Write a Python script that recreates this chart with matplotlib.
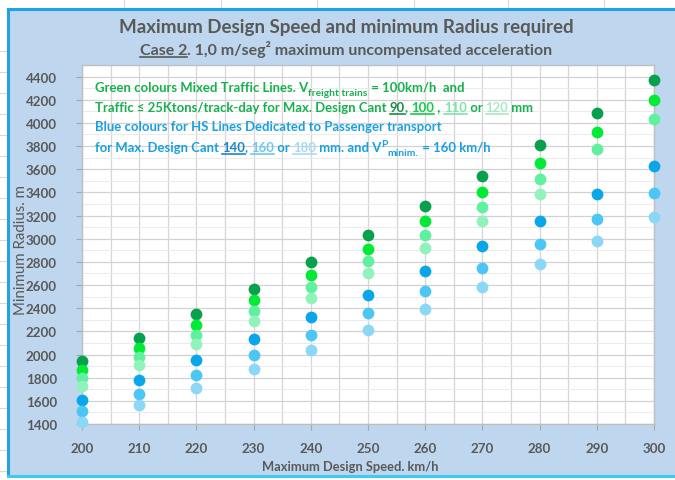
import matplotlib
matplotlib.use("Agg")
import matplotlib.pyplot as plt
from matplotlib.lines import Line2D
from matplotlib.patches import Rectangle
import numpy as np

# ---------------------------------------------------------------- data
speeds = [200, 210, 220, 230, 240, 250, 260, 270, 280, 290, 300]

# minimum radius (m) per maximum design cant (mm)
r_cant_90 = [1942, 2141, 2350, 2569, 2797, 3035, 3283, 3540, 3807, 4084, 4370]
r_cant_100 = [1866, 2057, 2257, 2467, 2686, 2915, 3153, 3400, 3657, 3922, 4198]
r_cant_110 = [1795, 1979, 2172, 2373, 2584, 2804, 3033, 3271, 3518, 3773, 4038]
r_cant_120 = [1729, 1906, 2092, 2287, 2490, 2701, 2922, 3151, 3389, None, None]
r_cant_140 = [1611, 1776, 1949, 2130, 2320, 2517, 2722, 2936, 3157, 3387, 3625]
r_cant_160 = [1508, 1663, 1825, 1994, 2172, 2356, 2549, 2748, 2956, 3171, 3393]
r_cant_180 = [1417, 1563, 1715, 1875, 2041, 2215, 2395, 2583, 2778, 2980, 3189]

series = [
    (r_cant_90, "#07A04C"),
    (r_cant_100, "#00EA36"),
    (r_cant_110, "#5FF0A0"),
    (r_cant_120, "#92F2BC"),
    (r_cant_140, "#0AA6EA"),
    (r_cant_160, "#4CC6F4"),
    (r_cant_180, "#8AD8F6"),
]

x_ticks = [200, 210, 220, 230, 240, 250, 260, 270, 280, 290, 300]
y_ticks = [1400, 1600, 1800, 2000, 2200, 2400, 2600, 2800, 3000,
           3200, 3400, 3600, 3800, 4000, 4200, 4400]

title = "Maximum Design Speed and minimum Radius required"
x_label = "Maximum Design Speed. km/h"
y_label = "Minimum Radius. m"

# ---------------------------------------------------------------- style
W, H = 675, 481
FAM = ["Lato", "DejaVu Sans"]
GREY = "#595959"
GREEN_TXT = "#16B04E"
BLUE_TXT = "#1AA0E0"

fig = plt.figure(figsize=(W / 100, H / 100), dpi=100)
fig.patch.set_facecolor("white")
renderer = fig.canvas.get_renderer()


def fx(px):
    return px / W


def fy(py):
    return 1 - py / H


# faint worksheet cell lines around the chart
for xc in [124, 221, 317, 414, 508, 604]:
    fig.add_artist(Line2D([fx(xc), fx(xc)], [fy(0), fy(9)], color="#D9D9D9", lw=0.8))
for yc in [52, 73, 94, 115, 136, 157, 178, 199, 220, 241, 262, 283, 304, 325,
           346, 367, 388, 409, 430, 451, 472]:
    fig.add_artist(Line2D([fx(0), fx(6)], [fy(yc), fy(yc)], color="#D9D9D9", lw=0.8))

# chart area
fig.add_artist(Rectangle((fx(8), fy(477)), 1 - fx(8), fy(10) - fy(477),
                         transform=fig.transFigure, facecolor="#BED7EE",
                         edgecolor="none", zorder=0))
fig.add_artist(Line2D([fx(8), 1], [fy(10), fy(10)], color="#22A2E2", lw=2.2))
fig.add_artist(Line2D([fx(8), fx(8)], [fy(10), fy(477)], color="#22A2E2", lw=2.2))
fig.add_artist(Line2D([fx(8), 1], [fy(477), fy(477)], color="#3CCBF2", lw=2.2))

# ---------------------------------------------------------------- axes
ax = fig.add_axes([fx(82), fy(425), fx(654) - fx(82), fy(66) - fy(425)])
ax.set_facecolor("white")
ax.set_xlim(200, 300)
ax.set_ylim(1400, 4500)

ax.set_xticks(x_ticks)
ax.set_xticks(np.arange(200, 301, 5), minor=True)
ax.set_yticks(y_ticks)
ax.set_yticks(np.arange(1400, 4501, 100), minor=True)
ax.grid(which="both", axis="x", color="#D6D6D6", lw=0.9)
ax.grid(which="major", axis="y", color="#D2D2D2", lw=0.9)
ax.grid(which="minor", axis="y", color="#EBEBEB", lw=0.7)
ax.set_axisbelow(True)
for s in ax.spines.values():
    s.set_color("#BFBFBF")
    s.set_linewidth(1.0)
ax.tick_params(which="major", length=4, color="#A6A6A6", width=0.8)
ax.tick_params(which="minor", length=0)
ax.tick_params(axis="y", pad=14)
ax.tick_params(axis="x", pad=9)
for lab in ax.get_xticklabels() + ax.get_yticklabels():
    lab.set_family(FAM)
    lab.set_weight("bold")
    lab.set_color(GREY)
    lab.set_fontsize(9.6)

for vals, col in series:
    v = np.array([np.nan if r is None else r for r in vals], dtype=float)
    ax.scatter(speeds, v, s=72, color=col, linewidths=0, zorder=3, clip_on=False)


# ---------------------------------------------------------------- text helpers
def width_px(s, size, weight="bold"):
    a = fig.text(0, 0, "|" + s + "|", fontsize=size, weight=weight, family=FAM)
    b = fig.text(0, 0, "||", fontsize=size, weight=weight, family=FAM)
    w = a.get_window_extent(renderer).width - b.get_window_extent(renderer).width
    a.remove()
    b.remove()
    return w


def fit(s, target, weight="bold"):
    return 10 * target / width_px(s, 10, weight)


def rich_line(x0, base_y, pieces, size, weight="bold"):
    x = x0
    for p in pieces:
        txt, col = p[0], p[1]
        scale = p[2] if len(p) > 2 else 1.0
        dy = p[3] if len(p) > 3 else 0
        ul = p[4] if len(p) > 4 else False
        fs = size * scale
        fig.text(fx(x), fy(base_y - dy), txt, fontsize=fs, weight=weight,
                 family=FAM, color=col, ha="left", va="baseline")
        w = width_px(txt, fs, weight)
        if ul:
            fig.add_artist(Line2D([fx(x), fx(x + w)], [fy(base_y + 2.5)] * 2,
                                  color=col, lw=1.2))
        x += w


# ---------------------------------------------------------------- titles
ts = fit(title, 456)
fig.text(fx(346), fy(33), title, fontsize=ts, weight="bold", family=FAM,
         color=GREY, ha="center", va="baseline")

sub_a = "Case 2"
sub_b = ". 1,0 m/seg² maximum uncompensated acceleration"
ss = fit(sub_a + sub_b, 415)
sw = width_px(sub_a + sub_b, ss)
rich_line(346 - sw / 2, 55, [(sub_a, GREY, 1.0, 0, True), (sub_b, GREY)], ss)

fig.text(fx(350), fy(467), x_label, fontsize=fit(x_label, 176), weight="bold",
         family=FAM, color=GREY, ha="center", va="center")
fig.text(fx(21), fy(250), y_label, fontsize=fit(y_label, 130, "normal"),
         weight="normal", family=FAM, color=GREY, ha="center", va="center",
         rotation=90)

# ---------------------------------------------------------------- notes
ns = fit("Blue colours for HS Lines Dedicated to Passenger transport", 347)
rich_line(95, 92, [
    ("Green colours Mixed Traffic Lines. V", GREEN_TXT),
    ("freight trains", GREEN_TXT, 0.78, -3.5),
    (" = 100km/h  and", GREEN_TXT),
], ns)
rich_line(95, 112, [
    ("Traffic ≤ 25Ktons/track-day for Max. Design Cant ", GREEN_TXT),
    ("90", "#1E8A4A", 1.0, 0, True),
    (", ", GREEN_TXT),
    ("100", "#14CC4A", 1.0, 0, True),
    (" , ", GREEN_TXT),
    ("110", "#7CE6A8", 1.0, 0, True),
    (" or ", GREEN_TXT),
    ("120", "#A6EBC6", 1.0, 0, True),
    (" mm", GREEN_TXT),
], ns)
rich_line(95, 131, [
    ("Blue colours for HS Lines Dedicated to Passenger transport", BLUE_TXT),
], ns)
rich_line(95, 152, [
    ("for Max. Design Cant ", BLUE_TXT),
    ("140", "#1C86C4", 1.0, 0, True),
    (", ", BLUE_TXT),
    ("160", "#6CC8EE", 1.0, 0, True),
    (" or ", BLUE_TXT),
    ("180", "#A8DAF2", 1.0, 0, True),
    (" mm. and V", BLUE_TXT),
    ("P", BLUE_TXT, 0.78, 5),
    ("minim.", BLUE_TXT, 0.78, -3.5),
    (" = 160 km/h", BLUE_TXT),
], ns)

fig.savefig("out.png", dpi=100, facecolor=fig.get_facecolor())
